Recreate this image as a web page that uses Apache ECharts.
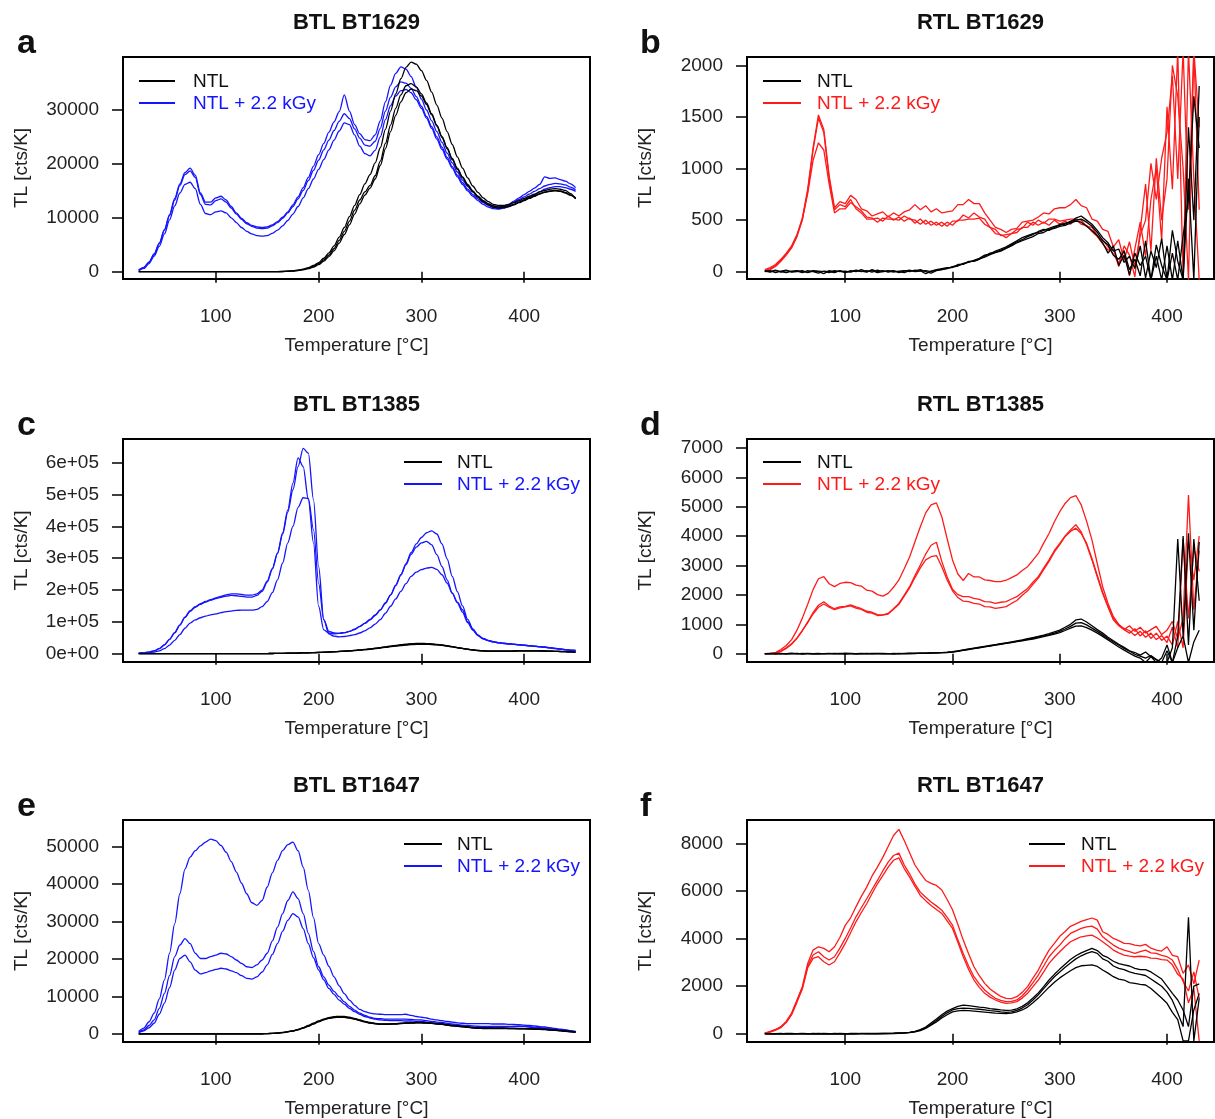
<!DOCTYPE html>
<html>
<head>
<meta charset="utf-8">
<script src="https://cdn.jsdelivr.net/npm/echarts@6/dist/echarts.min.js"></script>
<style>
html,body{margin:0;padding:0;background:#fff}
#chart{width:1215px;height:1119px}
</style>
</head>
<body>
<div id="chart"></div>
<script>
// Temperature grids (°C)
const tempBTL = [
  25,30,35,40,45,50,55,60,65,70,
  75,80,85,90,95,100,105,110,115,120,
  125,130,135,140,145,150,155,160,165,170,
  175,180,185,190,195,200,205,210,215,220,
  225,230,235,240,245,250,255,260,265,270,
  275,280,285,290,295,300,305,310,315,320,
  325,330,335,340,345,350,355,360,365,370,
  375,380,385,390,395,400,405,410,415,420,
  425,430,435,440,445,450];
const tempRTL = [
  25,30,35,40,45,50,55,60,65,70,
  75,80,85,90,95,100,105,110,115,120,
  125,130,135,140,145,150,155,160,165,170,
  175,180,185,190,195,200,205,210,215,220,
  225,230,235,240,245,250,255,260,265,270,
  275,280,285,290,295,300,305,310,315,320,
  325,330,335,340,345,350,355,360,365,370,
  375,380,385,390,395,400,405,410,415,420,
  425,430];

// Axis tick values
const xTicks = [100, 200, 300, 400];
const yTicksA = [0, 10000, 20000, 30000];
const yTicksB = [0, 500, 1000, 1500, 2000];
const yTicksC = [0, 100000, 200000, 300000, 400000, 500000, 600000];
const yTicksD = [0, 1000, 2000, 3000, 4000, 5000, 6000, 7000];
const yTicksE = [0, 10000, 20000, 30000, 40000, 50000];
const yTicksF = [0, 2000, 4000, 6000, 8000];

// ---------- BTL BT1629 ----------
const a_irr1 = [
  300,800,1800,3300,5300,7800,10600,13600,16300,18400,
  19200,17900,14600,12900,12900,13700,14000,13300,12100,10900,
  9900,9100,8600,8300,8200,8300,8700,9300,10100,11100,
  12400,13900,15600,17500,19600,21700,23800,25900,27800,29700,
  32800,29800,27300,25600,24500,24300,25400,28000,31500,34600,
  36800,38000,37600,36200,34200,32000,30000,28000,26000,24000,
  22000,20200,18500,17000,15800,14800,13900,13200,12600,12200,
  12000,12100,12500,13100,13700,14300,14900,15500,16200,17600,
  17300,17400,17100,16800,16300,15600];
const a_irr2 = [
  250,750,1700,3200,5200,7700,10400,13300,16000,18000,
  18700,17500,14300,12500,12400,13200,13500,12900,11800,10700,
  9700,8900,8400,8100,8000,8100,8500,9100,9900,10900,
  12100,13500,15100,16900,18800,20700,22600,24400,26200,27900,
  29300,28400,26500,24800,23500,23300,24200,26600,29800,32400,
  34300,35200,35000,34000,32500,30700,28800,26900,25000,23100,
  21200,19500,17900,16500,15300,14300,13500,12800,12300,11900,
  11800,12000,12400,12900,13400,13900,14400,14900,15400,15900,
  16200,16400,16300,16100,15700,15200];
const a_irr3 = [
  200,600,1500,2900,4700,7000,9600,12200,14600,16200,
  16600,15400,12500,10800,10600,11100,11300,10900,10000,9100,
  8200,7500,7000,6700,6600,6700,7100,7700,8500,9500,
  10700,12100,13700,15400,17200,19000,20800,22600,24400,26100,
  27600,27300,25400,23300,21900,21500,22500,25000,28200,30800,
  32600,33600,33800,33200,31900,30300,28500,26600,24600,22700,
  20900,19200,17600,16200,15000,14000,13200,12500,12000,11700,
  11600,11800,12100,12500,12900,13300,13800,14300,14800,15300,
  15600,15800,15800,15600,15300,14900];
const a_ntl1 = [
  0,0,0,0,0,0,0,0,0,0,
  0,0,0,0,0,0,0,0,0,0,
  0,0,0,0,0,0,10,20,50,100,
  180,300,480,750,1150,1700,2500,3500,4800,6400,
  8200,10200,12300,14300,16300,18000,20200,23000,26400,29800,
  33000,35800,37900,38900,38500,37300,35500,33300,30900,28500,
  26000,23600,21300,19200,17400,15900,14700,13700,13000,12500,
  12300,12300,12500,12800,13200,13600,14000,14400,14800,15100,
  15300,15400,15300,15100,14500,13500];
const a_ntl2 = [
  0,0,0,0,0,0,0,0,0,0,
  0,0,0,0,0,0,0,0,0,0,
  0,0,0,0,0,0,10,20,40,80,
  150,260,420,650,1000,1500,2200,3100,4300,5800,
  7500,9400,11400,13300,14800,16000,17800,20500,23800,27200,
  30300,32800,34500,34900,34300,33000,31300,29300,27200,25100,
  23000,21000,19200,17600,16200,15000,14000,13200,12600,12200,
  12000,12000,12200,12500,12900,13300,13700,14100,14500,14800,
  15000,15100,15000,14700,14200,13600];
const a_ntl3 = [
  0,0,0,0,0,0,0,0,0,0,
  0,0,0,0,0,0,0,0,0,0,
  0,0,0,0,0,0,10,15,30,60,
  120,210,350,560,870,1300,1950,2800,3900,5300,
  6900,8700,10700,12600,14200,15500,17200,19700,22800,26000,
  29000,31500,33200,33900,33600,32600,31000,29100,27000,24900,
  22800,20800,19000,17400,16000,14800,13800,13000,12400,12000,
  11800,11900,12100,12400,12800,13200,13600,14000,14400,14700,
  14900,15000,14900,14600,14200,13700];

// ---------- RTL BT1629 ----------
const b_irr1 = [
  10,30,60,110,170,240,350,520,800,1200,
  1520,1380,930,620,680,660,740,700,610,590,
  540,560,580,530,570,540,580,600,650,600,
  640,580,610,570,580,590,650,650,700,660,
  660,570,500,430,410,380,410,420,480,490,
  500,530,570,560,610,620,620,650,700,640,
  620,510,490,410,390,240,310,110,290,50,
  350,500,1050,700,1100,1350,1900,900,2150,600,
  2150,1400];
const b_irr2 = [
  0,20,50,100,160,230,340,500,780,1180,
  1490,1350,900,600,650,630,700,610,570,510,
  510,520,490,540,500,530,490,520,470,510,
  460,490,450,480,440,490,490,550,520,570,
  530,510,430,410,350,360,370,410,420,480,
  450,500,470,510,510,490,500,510,510,500,
  440,430,350,310,240,170,80,210,-40,220,
  480,150,700,1000,300,1600,800,2150,-80,2150,
  900,-80];
const b_irr3 = [
  20,40,70,120,180,250,360,510,760,1080,
  1250,1180,850,570,610,610,670,630,590,530,
  520,480,520,510,510,500,540,510,500,460,
  500,450,480,440,480,450,500,500,510,510,
  520,460,430,370,360,330,370,380,430,430,
  480,450,480,450,500,460,490,460,510,460,
  450,390,340,270,210,220,50,250,160,-50,
  400,850,200,1100,500,900,2000,1700,1000,-80,
  2150,600];
const b_ntl1 = [
  10,0,15,-5,10,0,5,-10,10,0,
  -15,5,0,-10,10,-5,0,15,5,-5,
  20,0,10,-5,5,0,-10,10,5,20,
  0,-15,10,20,30,50,60,80,90,110,
  130,160,170,200,220,240,270,300,330,350,
  370,380,400,420,440,450,470,480,520,540,
  500,460,400,330,280,200,220,90,150,30,
  250,-60,200,40,320,-80,180,-80,350,700,
  1700,1200];
const b_ntl2 = [
  0,10,-10,5,15,-5,0,10,-10,5,
  0,-20,10,0,5,-10,10,0,20,0,
  10,-10,0,10,-5,5,10,0,15,10,
  -20,5,20,30,40,40,70,70,100,100,
  120,150,180,190,210,230,260,290,310,340,
  360,390,410,400,430,460,460,490,500,510,
  480,440,380,300,260,160,120,200,20,120,
  -40,300,-80,150,-80,250,-80,300,-80,1400,
  500,1800];
const b_ntl3 = [
  5,-5,10,0,-10,5,10,0,-5,10,
  5,0,-10,10,0,5,-5,10,0,10,
  -5,15,0,5,10,-10,5,15,0,5,
  10,0,15,20,35,45,55,75,95,105,
  125,140,165,185,200,225,250,280,300,320,
  340,370,380,410,420,440,450,470,490,480,
  440,400,350,280,180,250,60,160,-30,180,
  60,150,-80,260,60,-80,400,100,-80,900,
  -80,1500];

// ---------- BTL BT1385 ----------
const c_irr1 = [
  2000,3000,5000,9000,16000,28000,45000,66000,90000,115000,
  135000,148000,157000,164000,170000,175000,180000,185000,188000,188000,
  186000,184000,184000,188000,200000,228000,268000,315000,375000,445000,
  515000,588000,645000,630000,484000,274000,107000,70000,65000,64000,
  66000,70000,77000,86000,96000,108000,122000,138000,160000,185000,
  215000,248000,283000,318000,345000,365000,380000,386000,376000,345000,
  298000,243000,195000,150000,108000,78000,59000,48000,42000,38000,
  35000,33000,31500,30000,28500,27000,25500,24000,22500,21000,
  19000,17000,15000,13000,11500,10500];
const c_irr2 = [
  2000,3000,5000,9000,16000,28000,45000,66000,90000,114000,
  133000,146000,155000,162000,168000,173000,177000,181000,183000,182000,
  180000,178000,178000,183000,196000,225000,266000,316000,380000,452000,
  536000,615000,588000,484000,348000,149000,75000,65000,62000,64000,
  66000,70000,76000,85000,95000,106000,120000,137000,158000,184000,
  214000,247000,280000,312000,335000,348000,353000,342000,311000,274000,
  232000,190000,160000,130000,98000,74000,57000,47000,41000,37000,
  34500,32500,31000,29500,28000,26500,25000,23500,22000,20500,
  18500,16500,14500,12500,11000,10000];
const c_irr3 = [
  1500,2000,3000,5000,9000,16000,27000,42000,60000,80000,
  96000,106000,113000,118000,122000,125000,129000,132000,134000,136000,
  137000,137000,137000,139000,148000,164000,192000,232000,285000,348000,
  400000,460000,490000,488000,390000,222000,107000,62000,55000,53000,
  54000,57000,60000,65000,72000,81000,93000,107000,127000,149000,
  172000,196000,220000,243000,256000,264000,269000,271000,265000,248000,
  222000,190000,162000,138000,100000,75000,57000,47000,41000,37000,
  34000,32000,30500,29000,27500,26000,24500,23000,21500,20000,
  18000,16000,14000,12000,10500,9500];
const c_ntl1 = [
  0,0,0,0,0,0,0,0,0,0,
  0,0,0,0,0,0,0,0,0,0,
  0,0,0,0,300,500,700,1000,1200,1500,
  1800,2200,2600,3000,3500,4000,4700,5500,6300,7200,
  8100,9000,10200,11500,13000,14500,16500,18500,20700,23000,
  25000,27000,28700,30000,30700,31000,30800,30000,28800,27000,
  24700,22000,19200,16500,14100,12000,10300,9000,8300,8000,
  8000,8000,8200,8500,8800,9000,9000,9000,8800,8500,
  8000,7500,7000,6500,5800,5000];
const c_ntl2 = [
  0,0,0,0,0,0,0,0,0,0,
  0,0,0,0,0,0,0,0,0,0,
  0,0,0,0,300,500,700,950,1150,1450,
  1750,2100,2500,2900,3400,3900,4600,5400,6200,7100,
  8000,9000,10300,11700,13300,15000,17100,19300,21600,24000,
  26200,28300,30000,31300,32000,32200,31900,31000,29600,27600,
  25000,22200,19300,16500,14000,11800,10000,8800,8100,7900,
  7900,8000,8200,8500,8800,9000,9000,8900,8700,8400,
  7900,7400,6900,6400,5700,4900];
const c_ntl3 = [
  0,0,0,0,0,0,0,0,0,0,
  0,0,0,0,0,0,0,0,0,0,
  0,0,0,0,250,450,650,900,1100,1400,
  1700,2000,2400,2800,3300,3800,4400,5200,6000,6800,
  7700,8600,9700,11000,12500,14000,15900,17800,19900,22000,
  24000,25800,27300,28500,29300,29600,29400,28700,27600,25900,
  23700,21200,18600,16000,13700,11600,9900,8700,8000,7800,
  7800,7900,8100,8300,8600,8800,8800,8700,8500,8200,
  7800,7300,6800,6300,5600,4900];

// ---------- RTL BT1385 ----------
const d_irr1 = [
  0,10,40,140,280,480,800,1210,1680,2180,
  2550,2620,2380,2280,2390,2430,2420,2330,2300,2160,
  2130,2010,1960,2050,2260,2510,2890,3290,3810,4320,
  4790,5060,5130,4660,3910,3190,2710,2490,2730,2610,
  2610,2510,2490,2450,2450,2500,2590,2680,2830,2960,
  3180,3410,3760,4090,4490,4830,5110,5310,5380,5060,
  4510,3870,3060,2280,1710,1260,1000,820,950,760,
  900,700,820,930,650,800,1100,500,1200,5400,
  1500,3500];
const d_irr2 = [
  0,5,20,80,180,320,520,780,1080,1400,
  1650,1770,1620,1530,1590,1610,1660,1590,1530,1450,
  1410,1330,1320,1370,1530,1710,1990,2280,2660,3020,
  3390,3690,3790,3140,2610,2190,2010,1940,1940,1880,
  1850,1770,1760,1710,1750,1770,1860,1940,2080,2220,
  2430,2620,2910,3190,3510,3750,4010,4210,4390,4140,
  3710,3190,2610,2050,1590,1150,950,820,700,850,
  600,780,520,700,450,600,300,1100,200,3800,
  2500,4000];
const d_irr3 = [
  0,5,25,90,200,340,540,790,1060,1350,
  1580,1690,1580,1500,1560,1590,1630,1550,1510,1410,
  1380,1300,1310,1350,1510,1680,1960,2240,2590,2920,
  3190,3300,3340,2960,2510,2140,1910,1790,1770,1710,
  1690,1600,1590,1540,1570,1600,1710,1810,1990,2140,
  2360,2570,2860,3140,3460,3710,3990,4160,4270,4090,
  3760,3240,2660,2090,1610,1190,980,860,780,620,
  760,560,700,480,620,380,900,200,3900,1200,
  3600,2800];
const d_ntl1 = [
  0,10,-10,5,0,15,-5,10,0,-10,
  5,0,10,-5,0,15,5,-10,0,10,
  -5,5,10,0,-10,10,5,10,15,10,
  20,25,30,40,50,70,100,130,160,190,
  220,250,280,310,340,370,400,440,470,510,
  550,590,630,680,740,800,900,1000,1150,1180,
  1080,950,820,700,560,440,320,220,100,40,
  -50,60,-100,-200,-300,-300,200,3900,600,4100,
  800,3800];
const d_ntl2 = [
  5,-5,0,10,-10,5,0,-5,10,0,
  -10,5,0,10,-5,0,10,0,-5,5,
  10,0,-5,5,0,-5,10,5,10,15,
  15,20,30,35,45,60,90,120,150,180,
  210,240,270,300,330,360,390,420,450,490,
  530,570,610,650,700,760,840,930,1040,1060,
  980,870,760,640,520,400,290,180,90,-20,
  -80,-150,-60,-200,-300,100,-300,600,4000,300,
  3900,1800];
const d_ntl3 = [
  -5,5,10,-5,5,0,10,-10,5,0,
  10,-5,5,0,10,-10,0,5,10,-5,
  0,10,5,-5,10,5,0,15,5,20,
  10,25,25,35,40,55,80,110,140,170,
  200,230,260,290,320,350,380,410,440,470,
  500,540,580,620,670,720,790,870,940,950,
  890,800,700,590,470,350,230,120,20,-80,
  -150,-300,-100,-300,-150,300,-300,200,600,-300,
  400,800];

// ---------- BTL BT1647 ----------
const e_irr1 = [
  600,1500,3200,5500,9300,14400,21500,29400,37400,44000,
  47200,48900,50200,51200,52000,51600,50300,48500,46000,43200,
  40200,37400,35000,34300,35600,39200,43000,46300,48900,50500,
  51200,48900,44500,38300,31000,24100,21000,18000,15200,12800,
  10700,9000,7600,6500,5900,5500,5300,5200,5100,5100,
  5100,5100,5200,4900,4600,4400,4200,3900,3700,3500,
  3300,3100,2900,2800,2700,2700,2700,2700,2700,2600,
  2600,2600,2500,2500,2400,2300,2200,2100,1900,1800,
  1600,1400,1200,1100,800,600];
const e_irr2 = [
  400,1000,2200,3700,6800,10800,15500,20600,23700,25400,
  24100,21500,20100,20100,20600,21000,21500,21300,20600,19700,
  18800,17900,17700,18400,19700,21500,24800,28500,32100,35600,
  37900,36100,32100,26800,22000,17900,15200,13000,11300,9900,
  8500,7300,6300,5500,4900,4400,4100,4000,3900,3900,
  3900,3900,3900,3800,3700,3700,3500,3300,3100,3000,
  2800,2600,2400,2300,2200,2100,2000,1950,1950,1950,
  1950,1950,1950,2000,2000,1950,1850,1750,1600,1500,
  1350,1200,1050,900,700,500];
const e_irr3 = [
  300,800,1600,2800,5200,8200,12300,17000,20100,21000,
  19200,17000,16000,16300,16800,17200,17500,17300,16800,16300,
  15500,14800,14600,15200,16500,18400,21200,24100,27400,30300,
  32100,31200,28100,24100,20300,17000,14400,12100,10500,9000,
  7900,6800,5900,5200,4600,4200,3900,3700,3600,3500,
  3500,3500,3400,3400,3300,3300,3100,2900,2800,2700,
  2500,2300,2200,2100,1900,1800,1700,1700,1700,1750,
  1800,1800,1850,1900,1950,1950,1800,1650,1500,1400,
  1250,1100,950,800,600,400];
const e_ntl1 = [
  0,0,0,0,0,0,0,0,0,0,
  0,0,0,0,0,0,0,0,0,0,
  0,0,0,0,0,50,100,200,350,550,
  800,1150,1600,2200,2800,3400,3900,4300,4550,4650,
  4600,4400,4100,3700,3300,3000,2750,2600,2600,2650,
  2700,2800,2900,2950,3000,3000,2950,2850,2700,2600,
  2400,2200,2100,1950,1800,1650,1550,1500,1500,1500,
  1500,1500,1450,1450,1400,1400,1350,1300,1250,1200,
  1100,1000,900,700,600,500];
const e_ntl2 = [
  0,0,0,0,0,0,0,0,0,0,
  0,0,0,0,0,0,0,0,0,0,
  0,0,0,0,0,40,90,180,320,500,
  750,1100,1550,2100,2700,3300,3800,4200,4400,4500,
  4450,4300,4000,3600,3200,2900,2700,2550,2550,2600,
  2650,2750,2850,2900,2950,2950,2900,2800,2650,2550,
  2350,2150,2050,1900,1750,1600,1500,1450,1450,1450,
  1450,1450,1400,1400,1350,1350,1300,1250,1200,1150,
  1050,950,850,700,600,500];
const e_ntl3 = [
  0,0,0,0,0,0,0,0,0,0,
  0,0,0,0,0,0,0,0,0,0,
  0,0,0,0,0,30,80,160,300,480,
  720,1050,1500,2000,2600,3200,3700,4100,4300,4400,
  4350,4200,3900,3500,3150,2850,2650,2500,2500,2550,
  2600,2700,2800,2850,2900,2900,2850,2750,2600,2500,
  2300,2100,2000,1850,1700,1550,1450,1400,1400,1400,
  1400,1400,1350,1350,1300,1300,1250,1200,1150,1100,
  1000,900,800,650,550,450];

// ---------- RTL BT1647 ----------
const f_irr1 = [
  30,100,180,300,520,870,1420,1980,2960,3520,
  3660,3590,3450,3660,4050,4560,4880,5340,5780,6170,
  6640,7010,7420,7880,8340,8600,8130,7620,7100,6760,
  6450,6330,6240,6050,5650,5220,4600,3940,3370,2820,
  2440,2120,1880,1720,1570,1490,1480,1560,1740,1980,
  2340,2680,3120,3520,3800,4100,4300,4520,4620,4730,
  4800,4870,4780,4290,4180,4010,3920,3800,3790,3730,
  3700,3760,3600,3520,3480,3660,3300,3240,2540,2900,
  2100,3100];
const f_irr2 = [
  20,80,160,280,500,840,1380,1930,2850,3310,
  3450,3240,3100,3240,3600,4010,4450,4920,5300,5680,
  6070,6450,6850,7220,7500,7600,7100,6730,6300,5960,
  5740,5540,5380,5200,4900,4570,3950,3380,2850,2400,
  2100,1840,1650,1490,1400,1350,1360,1420,1600,1840,
  2150,2470,2850,3240,3500,3730,4000,4220,4330,4430,
  4500,4530,4400,4080,3900,3730,3600,3520,3450,3380,
  3450,3520,3400,3380,3300,3240,3100,2700,2200,1800,
  2600,1500];
const f_irr3 = [
  20,70,150,260,470,800,1330,1880,2780,3170,
  3240,3030,2890,3030,3400,3800,4250,4710,5100,5470,
  5900,6310,6650,7010,7300,7400,6950,6590,6200,5820,
  5600,5400,5230,5060,4750,4430,3850,3240,2700,2260,
  1950,1700,1540,1420,1330,1280,1300,1350,1500,1700,
  1980,2260,2600,2960,3220,3450,3670,3870,3980,4080,
  4120,4150,4030,3870,3700,3520,3400,3310,3270,3240,
  3260,3240,3180,3170,3120,3100,2900,2500,2300,1300,
  1900,-300];
const f_ntl1 = [
  0,5,0,-5,10,0,5,0,-5,10,
  0,5,-5,10,0,5,0,10,5,0,
  10,5,10,15,20,30,40,60,100,170,
  280,450,620,800,950,1060,1150,1200,1180,1150,
  1120,1100,1060,1030,1000,980,990,1050,1150,1300,
  1500,1720,1980,2260,2500,2720,2920,3120,3280,3400,
  3500,3590,3500,3300,3200,3050,2950,2900,2850,2750,
  2700,2700,2600,2450,2300,2000,1700,1420,1000,300,
  2000,2100];
const f_ntl2 = [
  5,0,-5,5,0,10,-5,5,0,-5,
  10,0,5,-5,10,0,5,-5,10,5,
  0,10,5,10,15,25,35,55,90,150,
  250,400,560,730,880,1000,1060,1080,1070,1050,
  1030,1000,970,950,920,900,920,980,1080,1220,
  1420,1640,1900,2150,2400,2600,2800,2980,3150,3280,
  3380,3450,3380,3150,3050,2850,2750,2700,2600,2540,
  2500,2450,2300,2150,2000,1750,1400,870,300,4900,
  -300,1500];
const f_ntl3 = [
  -5,5,0,10,-5,0,5,10,0,5,
  -5,10,0,5,0,-5,10,0,5,10,
  5,0,10,5,10,20,30,45,80,130,
  220,360,500,660,800,920,960,980,970,950,
  930,910,890,870,860,850,870,920,1000,1120,
  1300,1500,1730,1960,2170,2350,2500,2650,2780,2860,
  2880,2900,2830,2680,2550,2400,2300,2260,2150,2120,
  2080,2050,1900,1700,1500,1280,900,590,-300,-300,
  1000,1700];

// ---------- layout ----------
const FONT = "'Liberation Sans', Arial, Helvetica, sans-serif";
const BLUE = '#1414FF', RED = '#FF1A1A', BLACK = '#000000';

const panels = [
  { letter: 'a', title: 'BTL BT1629', grid: { left: 123, top: 57, width: 467, height: 222 },
    x: [9.7, 464], y: [-1354, 39833], yTicks: yTicksA, temps: tempBTL, color: BLUE, smooth: true,
    irr: [a_irr1, a_irr2, a_irr3], ntl: [a_ntl1, a_ntl2, a_ntl3], legend: { x1: 139, x2: 175, tx: 193, y: 81 } },
  { letter: 'b', title: 'RTL BT1629', grid: { left: 747, top: 57, width: 467, height: 222 },
    x: [8.4, 443.8], y: [-71, 2082], yTicks: yTicksB, temps: tempRTL, color: RED, smooth: false,
    irr: [b_irr1, b_irr2, b_irr3], ntl: [b_ntl1, b_ntl2, b_ntl3], legend: { x1: 763, x2: 801, tx: 817, y: 81 } },
  { letter: 'c', title: 'BTL BT1385', grid: { left: 123, top: 439, width: 467, height: 223 },
    x: [9.7, 464], y: [-26080, 674500], yTicks: yTicksC, temps: tempBTL, color: BLUE, smooth: true, sci: true,
    irr: [c_irr1, c_irr2, c_irr3], ntl: [c_ntl1, c_ntl2, c_ntl3], legend: { x1: 404, x2: 442, tx: 457, y: 462 } },
  { letter: 'd', title: 'RTL BT1385', grid: { left: 747, top: 439, width: 467, height: 223 },
    x: [8.4, 443.8], y: [-282, 7303], yTicks: yTicksD, temps: tempRTL, color: RED, smooth: false,
    irr: [d_irr1, d_irr2, d_irr3], ntl: [d_ntl1, d_ntl2, d_ntl3], legend: { x1: 763, x2: 801, tx: 817, y: 462 } },
  { letter: 'e', title: 'BTL BT1647', grid: { left: 123, top: 820, width: 467, height: 223 },
    x: [9.7, 464], y: [-2207, 57100], yTicks: yTicksE, temps: tempBTL, color: BLUE, smooth: true,
    irr: [e_irr1, e_irr2, e_irr3], ntl: [e_ntl1, e_ntl2, e_ntl3], legend: { x1: 404, x2: 442, tx: 457, y: 844 } },
  { letter: 'f', title: 'RTL BT1647', grid: { left: 747, top: 820, width: 467, height: 223 },
    x: [8.4, 443.8], y: [-348, 8994], yTicks: yTicksF, temps: tempRTL, color: RED, smooth: false,
    irr: [f_irr1, f_irr2, f_irr3], ntl: [f_ntl1, f_ntl2, f_ntl3], legend: { x1: 1029, x2: 1065, tx: 1081, y: 844 } }
];

const grids = [], xAxes = [], yAxes = [], series = [], graphics = [];

function pairs(temps, vals) {
  const n = Math.min(temps.length, vals.length);
  const out = [];
  for (let i = 0; i < n; i++) out.push([temps[i], vals[i]]);
  return out;
}

function lineSeries(p, temps, vals, color, name, smooth) {
  return {
    type: 'line', name: name, xAxisIndex: p, yAxisIndex: p,
    data: pairs(temps, vals), showSymbol: false, symbol: 'none',
    smooth: smooth ? 0.3 : false, smoothMonotone: 'x',
    lineStyle: { color: color, width: 1.3 }, itemStyle: { color: color },
    clip: true, silent: true, animation: false
  };
}

panels.forEach((P, p) => {
  grids.push(Object.assign({ show: true, borderColor: '#000', borderWidth: 2, backgroundColor: 'transparent', containLabel: false }, P.grid));

  xAxes.push({
    gridIndex: p, type: 'value', min: P.x[0], max: P.x[1],
    axisLine: { show: false }, splitLine: { show: false },
    axisTick: { show: true, inside: false, length: 11, lineStyle: { color: '#000', width: 1.5 }, customValues: xTicks },
    axisLabel: { show: true, customValues: xTicks, margin: 28, fontSize: 19, color: '#222', fontFamily: FONT },
    name: 'Temperature [°C]', nameLocation: 'middle', nameGap: 57,
    nameTextStyle: { fontSize: 19, color: '#222', fontFamily: FONT }
  });

  yAxes.push({
    gridIndex: p, type: 'value', min: P.y[0], max: P.y[1],
    axisLine: { show: false }, splitLine: { show: false },
    axisTick: { show: true, inside: false, length: 11, lineStyle: { color: '#000', width: 1.5 }, customValues: P.yTicks },
    axisLabel: {
      show: true, customValues: P.yTicks, margin: 24, fontSize: 19, color: '#222', fontFamily: FONT,
      formatter: P.sci ? (v => (v === 0 ? '0e+00' : Math.round(v / 100000) + 'e+05')) : (v => String(v))
    },
    name: 'TL [cts/K]', nameLocation: 'middle', nameGap: 92, nameRotate: 90,
    nameTextStyle: { fontSize: 19, color: '#222', fontFamily: FONT }
  });

  P.irr.forEach(v => series.push(lineSeries(p, P.temps, v, P.color, 'NTL + 2.2 kGy', P.smooth)));
  P.ntl.forEach(v => series.push(lineSeries(p, P.temps, v, BLACK, 'NTL', P.smooth)));

  const cx = P.grid.left + P.grid.width / 2;
  const isLeft = P.grid.left < 600;
  graphics.push({
    type: 'text', x: cx, y: P.grid.top - 34,
    style: { text: P.title, font: 'bold 22px ' + FONT, fill: '#111', textAlign: 'center', textVerticalAlign: 'middle' }
  });
  graphics.push({
    type: 'text', x: isLeft ? 17 : 640, y: P.grid.top - 13,
    style: { text: P.letter, font: 'bold 34px ' + FONT, fill: '#111', textAlign: 'left', textVerticalAlign: 'middle' }
  });
  const L = P.legend;
  graphics.push({ type: 'line', shape: { x1: L.x1, y1: L.y, x2: L.x2, y2: L.y }, style: { stroke: BLACK, lineWidth: 2 } });
  graphics.push({ type: 'line', shape: { x1: L.x1, y1: L.y + 22, x2: L.x2, y2: L.y + 22 }, style: { stroke: P.color, lineWidth: 2 } });
  graphics.push({ type: 'text', x: L.tx, y: L.y + 1,
    style: { text: 'NTL', font: '19px ' + FONT, fill: '#111', textAlign: 'left', textVerticalAlign: 'middle' } });
  graphics.push({ type: 'text', x: L.tx, y: L.y + 23,
    style: { text: 'NTL + 2.2 kGy', font: '19px ' + FONT, fill: P.color, textAlign: 'left', textVerticalAlign: 'middle' } });
});

const chart = echarts.init(document.getElementById('chart'), null, { renderer: 'canvas' });
chart.setOption({
  backgroundColor: '#fff',
  animation: false,
  textStyle: { fontFamily: FONT },
  grid: grids,
  xAxis: xAxes,
  yAxis: yAxes,
  series: series,
  graphic: graphics
});
</script>
</body>
</html>
